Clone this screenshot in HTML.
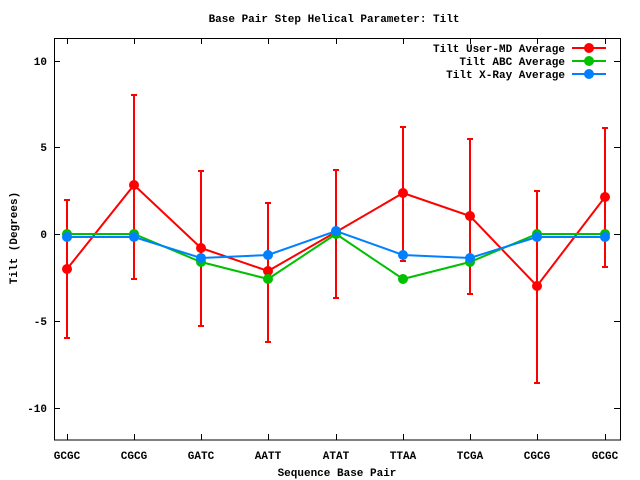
<!DOCTYPE html><html><head><style>body{margin:0;background:#fff}svg{display:block}text{font-family:"Liberation Mono",monospace;font-size:11px;font-weight:bold;fill:#000}</style></head><body>
<svg width="640" height="480" viewBox="0 0 640 480" xmlns="http://www.w3.org/2000/svg">
<rect x="54.5" y="38.5" width="566" height="401.5" fill="none" stroke="#000" stroke-width="1"/>
<g stroke="#000" stroke-width="1">
<path d="M54 61.5h6M620 61.5h-6M54 147.5h6M620 147.5h-6M54 234.5h6M620 234.5h-6M54 321.5h6M620 321.5h-6M54 408.5h6M620 408.5h-6"/>
<path d="M67.5 440v-6M67.5 38v6M134.5 440v-6M134.5 38v6M201.5 440v-6M201.5 38v6M268.5 440v-6M268.5 38v6M336.5 440v-6M336.5 38v6M403.5 440v-6M403.5 38v6M470.5 440v-6M470.5 38v6M537.5 440v-6M537.5 38v6M605.5 440v-6M605.5 38v6"/>
</g>
<g text-anchor="end"><text x="47" y="65">10</text><text x="47" y="151">5</text><text x="47" y="238">0</text><text x="47" y="325">-5</text><text x="47" y="412">-10</text></g>
<g text-anchor="middle"><text x="67" y="459">GCGC</text><text x="134" y="459">CGCG</text><text x="201" y="459">GATC</text><text x="268" y="459">AATT</text><text x="336" y="459">ATAT</text><text x="403" y="459">TTAA</text><text x="470" y="459">TCGA</text><text x="537" y="459">CGCG</text><text x="605" y="459">GCGC</text>
<text x="337" y="476">Sequence Base Pair</text><text x="334" y="22">Base Pair Step Helical Parameter: Tilt</text>
<text transform="translate(17,238) rotate(-90)">Tilt (Degrees)</text></g>
<g text-anchor="end"><text x="565" y="52">Tilt User-MD Average</text><text x="565" y="65">Tilt ABC Average</text><text x="565" y="78">Tilt X-Ray Average</text></g>
<g stroke="#ff0000" stroke-width="2" fill="none">
<path d="M67 200V338M64 200h6M64 338h6M134 95V279M131 95h6M131 279h6M201 171V326M198 171h6M198 326h6M268 203V342M265 203h6M265 342h6M336 170V298M333 170h6M333 298h6M403 127V261M400 127h6M400 261h6M470 139V294M467 139h6M467 294h6M537 191V383M534 191h6M534 383h6M605 128V267M602 128h6M602 267h6"/>
<path d="M67 269L134 185L201 248L268 271L336 232L403 193L470 216L537 286L605 197"/>
<path d="M572 48h34"/></g>
<g fill="#ff0000"><circle cx="67" cy="269" r="5"/><circle cx="134" cy="185" r="5"/><circle cx="201" cy="248" r="5"/><circle cx="268" cy="271" r="5"/><circle cx="336" cy="232" r="5"/><circle cx="403" cy="193" r="5"/><circle cx="470" cy="216" r="5"/><circle cx="537" cy="286" r="5"/><circle cx="605" cy="197" r="5"/><circle cx="589" cy="48" r="5"/></g>
<g stroke="#00c000" stroke-width="2" fill="none"><path d="M67 234L134 234L201 262L268 279L336 234L403 279L470 262L537 234L605 234M572 61h34"/></g>
<g fill="#00c000"><circle cx="67" cy="234" r="5"/><circle cx="134" cy="234" r="5"/><circle cx="201" cy="262" r="5"/><circle cx="268" cy="279" r="5"/><circle cx="336" cy="234" r="5"/><circle cx="403" cy="279" r="5"/><circle cx="470" cy="262" r="5"/><circle cx="537" cy="234" r="5"/><circle cx="605" cy="234" r="5"/><circle cx="589" cy="61" r="5"/></g>
<g stroke="#0080ff" stroke-width="2" fill="none"><path d="M67 237L134 237L201 258L268 255L336 231L403 255L470 258L537 237L605 237M572 74h34"/></g>
<g fill="#0080ff"><circle cx="67" cy="237" r="5"/><circle cx="134" cy="237" r="5"/><circle cx="201" cy="258" r="5"/><circle cx="268" cy="255" r="5"/><circle cx="336" cy="231" r="5"/><circle cx="403" cy="255" r="5"/><circle cx="470" cy="258" r="5"/><circle cx="537" cy="237" r="5"/><circle cx="605" cy="237" r="5"/><circle cx="589" cy="74" r="5"/></g>
</svg></body></html>
